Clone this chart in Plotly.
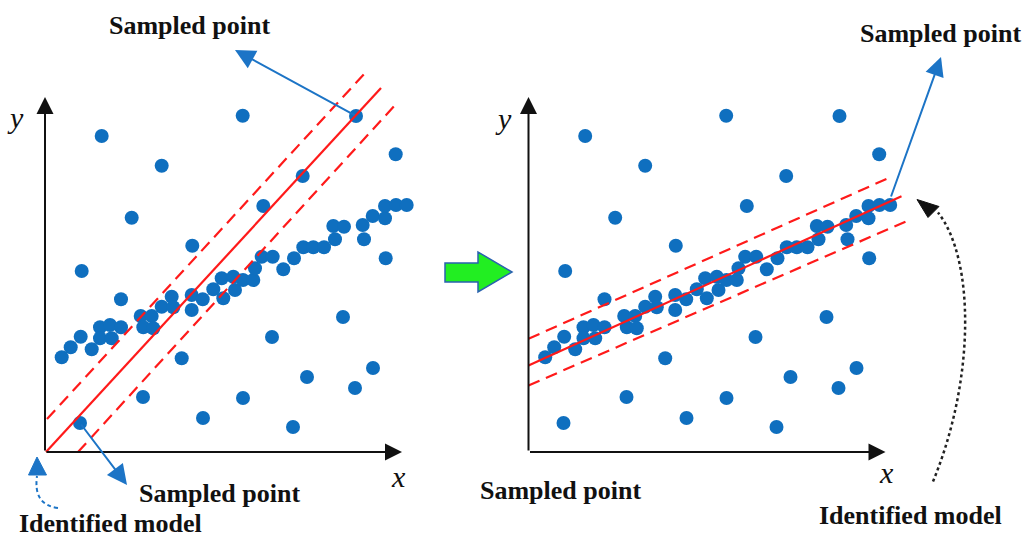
import plotly.graph_objects as go

# ---- data (units: origin at the axes corner of each panel, ~1 unit per px) ----
inlier_x = [16.7, 25.7, 35.7, 46.7, 55, 55, 65, 66.7, 76, 95.7, 98.3, 106.7, 108.3, 116.7,
            126.7, 128.3, 146.7, 146.7, 157.7, 168.3, 176.7, 178.3, 188.3, 190, 198, 208.3,
            210, 216.7, 227.7, 238.3, 249, 258.3, 268.3, 279, 290, 288.3, 299, 317.7, 319,
            327.7, 340, 340, 351, 361.7]
inlier_y = [94.7, 104.7, 115.3, 102.7, 124.7, 113.7, 127, 113.7, 124.7, 136, 124.7, 136, 123.7,
            145.3, 155.3, 144.7, 157, 142, 152.7, 162.7, 173.7, 153.7, 175.3, 162, 172, 172,
            183.7, 195.3, 195.3, 182.7, 193.7, 204.7, 204.7, 204.7, 212.7, 226, 225.3, 227,
            212.7, 236, 233.7, 246, 247, 247]
outlier_x = [197.7, 56.7, 116.7, 350.7, 257.7, 86.7, 218.3, 147.3, 36.7, 340.7, 76, 298, 227,
             136.7, 262, 328, 310, 98, 198, 158, 248, 311, 35]
outlier_y = [336.3, 316, 286.3, 297.7, 276, 234.3, 246, 206.3, 181, 193.7, 152.7, 135, 115,
             93.7, 75, 84, 64, 55, 54, 34, 25, 336, 29]

# model lines (left: hypothesis from two sampled points, right: identified model)
left_model_x = [1, 336]
left_model_y = [0, 364]
left_upper_x = [2, 320]
left_upper_y = [33, 379]
left_lower_x = [33, 352]
left_lower_y = [0, 349]
right_model_x = [0, 373]
right_model_y = [86.5, 255.8]
right_upper_x = [0, 364]
right_upper_y = [113.2, 275.8]
right_lower_x = [0, 382]
right_lower_y = [66.5, 232.5]

AXIS_LEN_X = 357
AXIS_LEN_Y = 355

label_sampled = "Sampled point"
label_model = "Identified model"

BLUE = "#0F6FBF"
ARROW_BLUE = "#1C74C6"
RED = "#FF1A1A"

fig = go.Figure()

all_x = inlier_x + outlier_x
all_y = inlier_y + outlier_y

for xa in ["x", "x2"]:
    fig.add_trace(go.Scatter(x=all_x, y=all_y, xaxis=xa, yaxis="y", mode="markers",
                             marker=dict(size=14, color=BLUE, line=dict(width=0)),
                             showlegend=False, hoverinfo="skip"))

def add_line(xs, ys, xa, dash):
    fig.add_trace(go.Scatter(x=xs, y=ys, xaxis=xa, yaxis="y", mode="lines",
                             line=dict(color=RED, width=2.2, dash=dash),
                             showlegend=False, hoverinfo="skip"))

add_line(left_model_x, left_model_y, "x", "solid")
add_line(left_upper_x, left_upper_y, "x", "12px,7px")
add_line(left_lower_x, left_lower_y, "x", "12px,7px")
add_line(right_model_x, right_model_y, "x2", "solid")
add_line(right_upper_x, right_upper_y, "x2", "12px,7px")
add_line(right_lower_x, right_lower_y, "x2", "12px,7px")

ann = []

def arrow(xa, x, y, ax, ay, color, width=2, size=1.7):
    ann.append(dict(xref=xa, yref="y", axref=xa, ayref="y", x=x, y=y, ax=ax, ay=ay,
                    text="", showarrow=True, arrowhead=2, arrowsize=size,
                    arrowwidth=width, arrowcolor=color))

def text(xa, x, y, s, size=26, italic=False):
    if italic:
        ann.append(dict(xref=xa, yref="y", x=x, y=y, text=s, showarrow=False,
                        font=dict(family="Liberation Serif", size=size, color="#111111",
                                  style="italic"),
                        xanchor="center", yanchor="middle"))
    else:
        ann.append(dict(xref=xa, yref="y", x=x, y=y, text="<b>" + s + "</b>", showarrow=False,
                        font=dict(family="Liberation Serif", size=size, color="#111111"),
                        xanchor="center", yanchor="middle"))

# axes with arrows
for xa in ["x", "x2"]:
    arrow(xa, 0, AXIS_LEN_Y, 0, 0, "#111111", width=2, size=1.7)
    arrow(xa, AXIS_LEN_X, 0, 0, 0, "#111111", width=2, size=1.7)

# axis labels
text("x", -30, 335, "y", size=30, italic=True)
text("x", 353, -24, "x", size=30, italic=True)
text("x2", -25.5, 334, "y", size=30, italic=True)
text("x2", 358, -20, "x", size=30, italic=True)

# sampled point pointers
arrow("x", 190, 402, 311, 336, ARROW_BLUE, width=2, size=2.0)
arrow("x", 82, -33, 35, 29, ARROW_BLUE, width=2, size=2.0)
arrow("x2", 412.5, 395, 362, 254, ARROW_BLUE, width=2, size=1.9)

# texts
text("x", 144.5, 427, label_sampled)
text("x", 174.5, -41, label_sampled)
text("x", 65, -71, label_model)
text("x2", 411.5, 419, label_sampled)
text("x2", 31.5, -38.5, label_sampled)
text("x2", 381.5, -63, label_model)

shapes = []
# left dotted blue curved arrow
shapes.append(dict(type="path", xref="x", yref="y",
                   path="M 13,-56 Q -12,-53 -8,-24",
                   line=dict(color=ARROW_BLUE, width=2, dash="4px,3px")))
shapes.append(dict(type="path", xref="x", yref="y",
                   path="M -8,-5 L -16.5,-23 L 1.5,-23 Z",
                   fillcolor=ARROW_BLUE, line=dict(color=ARROW_BLUE, width=1)))
# right dotted black curved arrow
shapes.append(dict(type="path", xref="x2", yref="y",
                   path="M 404.5,-29.5 C 446.5,72.5 446.5,192.5 409.5,239.5",
                   line=dict(color="#222222", width=2.5, dash="3px,3px")))
shapes.append(dict(type="path", xref="x2", yref="y",
                   path="M 388.5,252.5 L 410.5,245.5 L 399.5,234.5 Z",
                   fillcolor="#111111", line=dict(color="#111111", width=1)))
# green transition arrow (between panels)
shapes.append(dict(type="path", xref="x", yref="y",
                   path="M 400,189 L 433,189 L 433,200 L 467,180 L 433,160 L 433,170 L 400,170 Z",
                   fillcolor="#22EE22", line=dict(color="#2A62B0", width=1.5)))

fig.update_layout(
    width=1025, height=539, margin=dict(l=0, r=0, t=0, b=0),
    paper_bgcolor="white", plot_bgcolor="white",
    xaxis=dict(range=[-45, 980], visible=False, domain=[0, 1]),
    xaxis2=dict(range=[-528.5, 496.5], visible=False, overlaying="x"),
    yaxis=dict(range=[-87, 452], visible=False, domain=[0, 1]),
    annotations=ann, shapes=shapes, showlegend=False,
)

fig.write_html("out.html", config={"displayModeBar": False},
               post_script="document.body.style.margin='0';")
